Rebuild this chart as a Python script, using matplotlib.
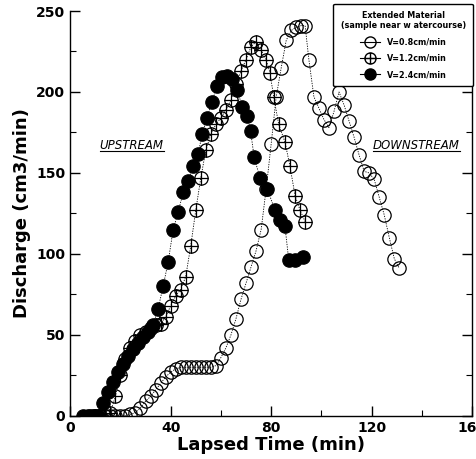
import numpy as np
import matplotlib
matplotlib.use("Agg")
import matplotlib.pyplot as plt
from matplotlib.path import Path
from matplotlib.lines import Line2D

# V=0.8 cm/min (open circles)
t_08 = [8, 10, 12, 14, 16, 18, 20, 22, 24, 26, 28, 30, 32, 34, 36, 38, 40, 42, 44, 46,
        48, 50, 52, 54, 56, 58, 60, 62, 64, 66, 68, 70, 72, 74, 76, 78, 80, 82, 84, 86,
        88, 90, 92, 93.5, 95, 97, 99, 101, 103, 105, 107, 109, 111, 113, 115, 117, 119,
        121, 123, 125, 127, 129, 131]
q_08 = [0, 0, 0, 0, 0, 0, 0, 0, 1, 2, 5, 9, 12, 16, 20, 24, 27, 29, 30, 30,
        30, 30, 30, 30, 30, 31, 36, 42, 50, 60, 72, 82, 92, 102, 115, 140, 168, 197, 215, 232,
        238, 240, 241, 241, 220, 197, 190, 183, 178, 188, 200, 192, 182, 172, 161, 151, 150,
        146, 135, 124, 110, 97, 91]

# V=1.2 cm/min (crossed circles)
t_12 = [10, 12, 14, 16, 18, 20, 22, 24, 26, 28, 30, 32, 34, 36, 38, 40, 42, 44, 46, 48,
        50, 52, 54, 56, 58, 60, 62, 64, 66, 68, 70, 72, 74, 76, 78, 79.5, 81, 83, 85.5,
        87.5, 89.5, 91.5, 93.5]
q_12 = [0, 0, 0, 2, 12, 25, 35, 42, 46, 50, 52, 54, 56, 57, 61, 68, 74, 78, 86, 105,
        127, 147, 164, 174, 180, 184, 189, 195, 205, 213, 220, 228, 231, 226, 220, 212, 197, 180, 169,
        154, 136, 127, 120]

# V=2.4 cm/min (filled circles)
t_24 = [5, 7, 9, 11, 13, 15, 17, 19, 21, 23, 25, 27, 29, 31, 33, 35, 37, 39, 41, 43,
        45, 47, 49, 51, 52.5, 54.5, 56.5, 58.5, 60.5, 62.5, 64.5, 66.5, 68.5, 70.5, 71.8,
        73.2, 75.5, 78.5, 81.5, 83.5, 85.5, 87, 89.5, 92.5]
q_24 = [0, 0, 0, 0, 8, 15, 21, 27, 32, 37, 41, 45, 49, 52, 56, 66, 80, 95, 115, 126,
        138, 145, 154, 162, 174, 184, 194, 204, 209, 210, 208, 201, 191, 185, 176,
        160, 147, 140, 127, 121, 117, 96, 96, 98]

labels = ["V=0.8cm/min", "V=1.2cm/min", "V=2.4cm/min"]

# circle with a cross inside
oplus = Path.make_compound_path(Path.unit_circle(),
                                Path([[-1, 0], [1, 0]]),
                                Path([[0, -1], [0, 1]]))

plt.rcParams['font.family'] = ['DejaVu Sans']
plt.rcParams['font.weight'] = 'bold'

fig = plt.figure(figsize=(4.77, 4.59), dpi=100)
ax = fig.add_axes([0.147, 0.094, 0.843, 0.882])

ms = 9.6
line_kw = dict(color='black', linestyle=(0, (1.5, 1.5)), linewidth=0.6)
ax.plot(t_08, q_08, marker='o', ms=ms, mfc='none', mec='black', mew=0.9, **line_kw)
ax.plot(t_12, q_12, marker=oplus, ms=ms, mfc='none', mec='black', mew=0.9, **line_kw)
ax.plot(t_24, q_24, marker='o', ms=ms, mfc='black', mec='black', mew=0.9, **line_kw)

ax.set_xlim(0, 160)
ax.set_ylim(0, 250)
ax.set_xticks([0, 40, 80, 120, 160])
ax.set_xticks([20, 60, 100, 140], minor=True)
ax.set_yticks([0, 50, 100, 150, 200, 250])
ax.set_yticks([25, 75, 125, 175, 225], minor=True)
ax.tick_params(which='both', direction='in', right=True, top=False, labelsize=10)
ax.tick_params(which='major', length=7, width=1)
ax.tick_params(which='minor', length=4, width=0.8)
ax.spines['top'].set_visible(False)
for s in ['left', 'right', 'bottom']:
    ax.spines[s].set_linewidth(1)
for lab in ax.get_xticklabels() + ax.get_yticklabels():
    lab.set_fontweight('bold')

ax.set_xlabel("Lapsed Time (min)", fontsize=13, fontweight='bold', labelpad=1)
ax.set_ylabel("Discharge (cm3/min)", fontsize=13, fontweight='bold', labelpad=4)

handles = [
    Line2D([], [], color='black', lw=0.8, marker='o', ms=8, mfc='none', mec='black'),
    Line2D([], [], color='black', lw=0.8, marker=oplus, ms=8, mfc='none', mec='black'),
    Line2D([], [], color='black', lw=0.8, marker='o', ms=8, mfc='black', mec='black'),
]
leg = ax.legend(handles, labels, loc='upper right', bbox_to_anchor=(1.012, 1.028),
                title="Extended Material\n(sample near w atercourse)",
                prop={'size': 5.8, 'weight': 'bold'}, title_fontproperties={'size': 5.8, 'weight': 'bold'},
                frameon=True, fancybox=True, edgecolor='black', framealpha=1,
                handlelength=2.6, labelspacing=0.9, borderpad=0.9)
leg.get_frame().set_linewidth(1)
leg.get_title().set_multialignment('center')

t_up = ax.text(0.153, 0.652, "UPSTREAM", transform=ax.transAxes, ha='center', va='bottom',
               fontsize=8.5, style='italic', fontweight='normal')
t_down = ax.text(0.861, 0.652, "DOWNSTREAM", transform=ax.transAxes, ha='center', va='bottom',
                 fontsize=8.5, style='italic', fontweight='normal')

# underline the two labels
fig.canvas.draw()
inv = fig.transFigure.inverted()
for t in (t_up, t_down):
    bb = t.get_window_extent().transformed(inv)
    fig.add_artist(Line2D([bb.x0, bb.x1], [bb.y0 + 0.002, bb.y0 + 0.002],
                          color='black', lw=0.8, transform=fig.transFigure))

fig.savefig("out.png", dpi=100)
